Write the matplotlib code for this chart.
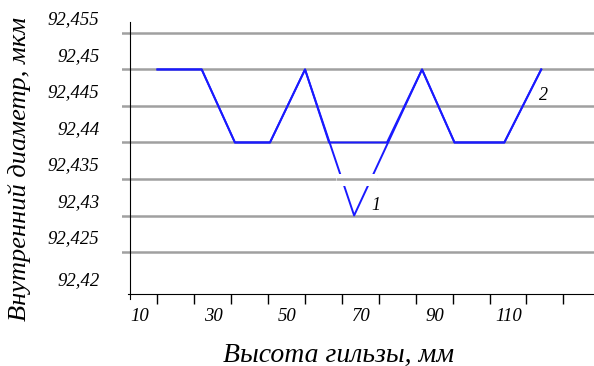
import numpy as np
import matplotlib.pyplot as plt
from matplotlib.transforms import ScaledTranslation

# высота гильзы, мм
x1 = [10, 22, 31, 40.5, 50, 63.3, 81.7, 90.5, 104, 114]
d1 = [92.45, 92.45, 92.44, 92.44, 92.45, 92.43, 92.45, 92.44, 92.44, 92.45]

x2 = [10, 22, 31, 40.5, 50, 56.5, 72.2, 81.7, 90.5, 104, 114]
d2 = [92.45, 92.45, 92.44, 92.44, 92.45, 92.44, 92.44, 92.45, 92.44, 92.44, 92.45]

grid_vals = [92.425, 92.43, 92.435, 92.44, 92.445, 92.45, 92.455]
ytick_vals = [92.41925] + grid_vals
ytick_labels = ['92,42', '92,425', '92,43', '92,435', '92,44', '92,445', '92,45', '92,455']
xtick_vals = list(range(10, 130, 10))
xtick_labels = ['10', '', '30', '', '50', '', '70', '', '90', '', '110', '']

plt.rcParams['font.family'] = ['Liberation Serif', 'DejaVu Serif']

fig = plt.figure(figsize=(5.94, 3.66), dpi=100)
ax = fig.add_axes([122 / 594, 1 - 294 / 366, 472 / 594, 272 / 366])

blue = '#1a1aff'
ax.plot(x1, d1, color=blue, lw=1.4, zorder=2)
ax.plot(x2, d2, color=blue, lw=1.4, zorder=2)

for v in grid_vals:
    ax.axhline(v, color='#a0a0a0', lw=1.8, zorder=1)

# разрыв линии 1 у сетки 92,435
ax.fill_between([58.5, 69.5], 92.4340, 92.4357, color='white', lw=0, zorder=3)
ax.hlines(92.435, 58.5, 69.5, color='#a0a0a0', lw=1.8, zorder=4)

ax.text(69.2, 92.4314, '1', fontsize=13, style='italic', ha='center', va='center')
ax.text(114.5, 92.4465, '2', fontsize=13, style='italic', ha='center', va='center')

ax.set_xlim(0.4, 128.3)
ax.set_ylim(92.41925, 92.4565)

for s in ['top', 'right']:
    ax.spines[s].set_visible(False)
ax.spines['left'].set_position(('data', 2.6))
ax.spines['left'].set_bounds(92.4185, 92.4565)
ax.spines['bottom'].set_bounds(2.0, 128.3)

ax.set_yticks(ytick_vals)
ax.set_yticklabels(ytick_labels, fontsize=13.5, style='italic')
ax.tick_params(axis='y', length=0, pad=22)
ax.set_xticks(xtick_vals)
ax.set_xticklabels(xtick_labels, fontsize=13.5, style='italic')
ax.tick_params(axis='x', direction='out', length=7, width=1, pad=3)

for lab in ax.get_yticklabels():
    lab.set_transform(lab.get_transform() + ScaledTranslation(0, 0.15, fig.dpi_scale_trans))
for lab in ax.get_xticklabels():
    lab.set_transform(lab.get_transform() + ScaledTranslation(-0.18, 0, fig.dpi_scale_trans))

fig.text(339 / 594, 1 - 355 / 366, 'Высота гильзы, мм', fontsize=20, style='italic',
         ha='center', va='center')
fig.text(20 / 594, 1 - 169 / 366, 'Внутренний диаметр, мкм', fontsize=19, style='italic',
         ha='center', va='center', rotation=90)

fig.savefig('out.png', dpi=100)
